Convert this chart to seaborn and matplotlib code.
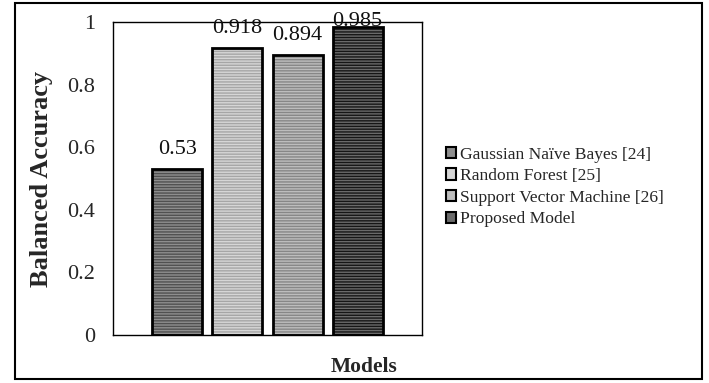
import matplotlib
matplotlib.use("Agg")
import matplotlib.pyplot as plt
import seaborn as sns
import pandas as pd
from matplotlib.patches import Rectangle, Patch

models = ["Gaussian Naïve Bayes [24]", "Random Forest [25]",
          "Support Vector Machine [26]", "Proposed Model"]
values = [0.53, 0.918, 0.894, 0.985]
yticks = [0, 0.2, 0.4, 0.6, 0.8, 1]
ytick_labels = ["0", "0.2", "0.4", "0.6", "0.8", "1"]

face_colors = ["#8e8e8e", "#d6d6d6", "#bdbdbd", "#6a6a6a"]
hatch_colors = ["#505050", "#a6a6a6", "#878787", "#161616"]

sns.set_theme(style="white")
plt.rcParams["font.family"] = ["Liberation Serif", "DejaVu Serif"]
plt.rcParams["hatch.linewidth"] = 1.0

df = pd.DataFrame({"Group": [""] * len(models), "Model": models, "Value": values})

fig = plt.figure(figsize=(7.09, 3.83), dpi=100)
ax = fig.add_axes([113 / 709, 1 - 335 / 383, (422 - 113) / 709, (335 - 22) / 383])

sns.barplot(data=df, x="Group", y="Value", hue="Model", hue_order=models,
            palette=face_colors, width=0.777, gap=0.167, ax=ax, legend=False,
            errorbar=None)

for i, cont in enumerate(ax.containers):
    for p in cont.patches:
        p.set_hatch("------")
        p.set_edgecolor(hatch_colors[i])
        p.set_linewidth(0)
        x0, y0 = p.get_xy()
        ax.add_patch(Rectangle((x0, y0), p.get_width(), p.get_height(),
                               fill=False, edgecolor="black", linewidth=2.0,
                               zorder=p.get_zorder() + 0.1))
    pad = 7 if max(cont.datavalues) < 0.95 else -3
    ax.bar_label(cont, labels=[f"{v:g}" for v in cont.datavalues],
                 padding=pad, fontsize=16, color="#111111")

ax.set_ylim(0, 1)
ax.set_yticks(yticks)
ax.set_yticklabels(ytick_labels, fontsize=16)
ax.set_xticks([])
ax.tick_params(axis="y", length=0, pad=13)
ax.set_ylabel("Balanced Accuracy", fontsize=19, fontweight="bold", labelpad=10)
ax.set_xlabel("")
for s in ax.spines.values():
    s.set_visible(True)
    s.set_color("black")
    s.set_linewidth(1.0)

fig.text(364 / 709, 1 - 367 / 383, "Models", ha="center", va="center",
         fontsize=15.5, fontweight="bold")

handles = [Patch(facecolor=face_colors[i], edgecolor="black", linewidth=1.5)
           for i in range(len(models))]
fig.legend(handles, models, loc="center left",
           bbox_to_anchor=(437 / 709, 1 - 187 / 383), frameon=False,
           fontsize=12.6, handlelength=0.6, handleheight=0.6,
           handletextpad=0.2, labelspacing=0.32, borderpad=0)

fig.patches.append(Rectangle((15 / 709, 1 - 379 / 383), (702 - 15) / 709,
                             (379 - 3) / 383, transform=fig.transFigure,
                             fill=False, edgecolor="black", linewidth=1.5))

fig.savefig("out.png", dpi=100)
